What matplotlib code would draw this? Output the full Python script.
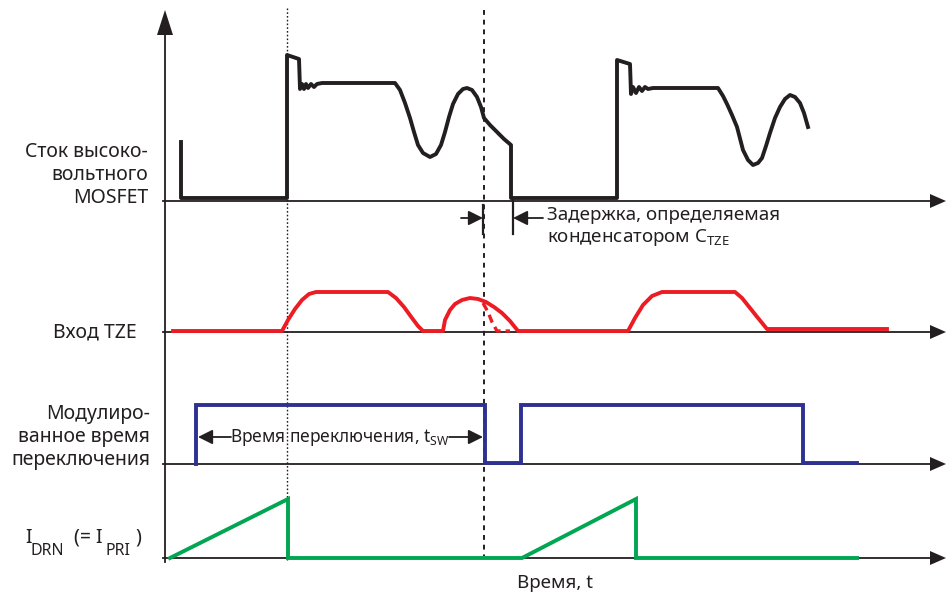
import matplotlib
matplotlib.use("Agg")
import matplotlib.pyplot as plt

plt.rcParams['font.family'] = ['Noto Sans', 'DejaVu Sans']
plt.rcParams['mathtext.fontset'] = 'custom'
plt.rcParams['mathtext.rm'] = 'Noto Sans'

# drawing units: x = time (px), y = screen position (px, downwards)
# --- MOSFET drain voltage (black) ---
drain_x = [181, 181, 287, 287, 299, 300, 302, 304, 306, 308, 311, 314, 317, 322,
           395, 400, 405, 410, 414, 418, 423, 430, 436, 441, 445, 449, 453, 458,
           463, 467, 472, 477, 481, 484, 490, 497, 504, 511, 511,
           617, 617, 630, 631, 633, 636, 639, 642, 645, 648, 653,
           718, 723, 727, 732, 737, 743, 748, 753, 758, 762, 766, 770, 775, 780,
           785, 790, 795, 800, 804, 808]
drain_y = [142, 198, 198, 55, 59, 89, 84, 89, 84, 88, 84, 87, 84, 83,
           83, 90, 103, 118, 132, 145, 153, 157, 154, 145, 132, 117, 104, 94,
           89, 88, 90, 97, 107, 118, 125, 132, 139, 145, 198,
           198, 60, 64, 94, 87, 93, 87, 91, 87, 89, 88,
           88, 96, 104, 115, 127, 150, 160, 165, 163, 158, 146, 133, 118, 107,
           99, 95, 97, 103, 113, 127]

# --- TZE input (red) ---
tze_x = [173, 282, 288, 295, 302, 309, 316, 388, 396, 404, 412, 418, 423, 443,
         445, 450, 455, 462, 470, 478, 486, 494, 502, 510, 518, 628, 635, 643,
         652, 662, 735, 742, 750, 758, 767, 887]
tze_y = [331, 331, 320, 309, 300, 294, 292, 292, 298, 307, 318, 326, 331, 331,
         320, 310, 304, 300, 298, 299, 302, 307, 313, 321, 331, 331, 318, 305,
         296, 292, 292, 298, 308, 318, 329, 329]
tze_alt_x = [483, 488, 492, 497, 510]
tze_alt_y = [303, 312, 322, 331, 331]

# --- modulated switching time (blue) ---
tsw_x = [196, 196, 485, 485, 521, 521, 803, 803, 857]
tsw_y = [464, 405, 405, 463, 463, 405, 405, 463, 463]

# --- drain current (green) ---
idrn_x = [170, 288, 288, 522, 636, 636, 857]
idrn_y = [558, 499, 558, 558, 499, 558, 558]

baselines = [201, 332, 464, 558]
marker_times = [287, 484]

labels = [("Сток высоко-\nвольтного\nMOSFET", 148, 175),
          ("Вход TZE", 137, 332),
          ("Модулиро-\nванное время\nпереключения", 150, 437)]

# I_DRN (= I_PRI) label, split into main text and subscripts
idrn_parts = [("I", 25, 543, 14), ("DRN", 31, 555, 11.5),
              ("(= I", 74, 543, 14), ("PRI", 106, 555, 11.5),
              (")", 135, 543, 14)]

BLACK = '#231f20'
RED = '#ed1c24'
BLUE = '#2e3192'
GREEN = '#00a651'

fig = plt.figure(figsize=(9.48, 5.97), dpi=100)
ax = fig.add_axes([0, 0, 1, 1])
ax.set_xlim(0, 948)
ax.set_ylim(597, 0)
ax.axis('off')

# axes of the timing diagram
ax.plot([165, 165], [562, 30], color=BLACK, lw=1.3)
ax.fill([157, 173, 165], [35, 35, 10], color=BLACK, lw=0)
for y in baselines:
    ax.plot([163, 935], [y, y], color=BLACK, lw=1.3)
    ax.fill([930, 930, 946], [y - 7, y + 7, y], color=BLACK, lw=0)

# time markers
ax.plot([marker_times[0]] * 2, [8, 560], color=BLACK, lw=1.0,
        dashes=(1.2, 1.5))
ax.plot([marker_times[1]] * 2, [10, 556], color=BLACK, lw=1.4,
        dashes=(2.5, 2.5))

# signals
ax.plot(drain_x, drain_y, color=BLACK, lw=2.8, solid_joinstyle='round')
ax.plot(tze_x, tze_y, color=RED, lw=2.8)
ax.plot(tze_alt_x, tze_alt_y, color=RED, lw=2.4, dashes=(2.5, 1.5))
ax.plot(tsw_x, tsw_y, color=BLUE, lw=2.8, solid_joinstyle='miter')
ax.plot(idrn_x, idrn_y, color=GREEN, lw=2.8, solid_joinstyle='miter')

# signal names
for txt, x, y in labels:
    ax.text(x, y, txt, ha='right', va='center', fontsize=14,
            color=BLACK, linespacing=1.22)
for txt, x, y, size in idrn_parts:
    ax.text(x, y, txt, ha='left', va='baseline', fontsize=size, color=BLACK)
ax.text(555, 583, 'Время, t', ha='center', va='center', fontsize=13.5,
        color=BLACK)

# switching time annotation
arrow = dict(arrowstyle='-|>', color=BLACK, lw=1.3, mutation_scale=22,
             shrinkA=0, shrinkB=0)
ax.annotate('', xy=(198, 437), xytext=(231, 437), arrowprops=arrow)
ax.annotate('', xy=(483, 437), xytext=(449, 437), arrowprops=arrow)
ax.text(340, 437, r'Время переключения, t$_\mathrm{SW}$', ha='center',
        va='center', fontsize=12.5, color=BLACK)

# TZE delay annotation
ax.plot([483, 483], [205, 234], color=BLACK, lw=1.6)
ax.plot([513, 513], [200, 234], color=BLACK, lw=1.6)
ax.annotate('', xy=(483, 218), xytext=(461, 218), arrowprops=arrow)
ax.annotate('', xy=(513, 218), xytext=(543, 218), arrowprops=arrow)
ax.text(547, 227, 'Задержка, определяемая\nконденсатором C$_\\mathrm{TZE}$',
        ha='left', va='center', fontsize=13.5, color=BLACK, linespacing=1.15)

fig.savefig('out.png', dpi=100)
